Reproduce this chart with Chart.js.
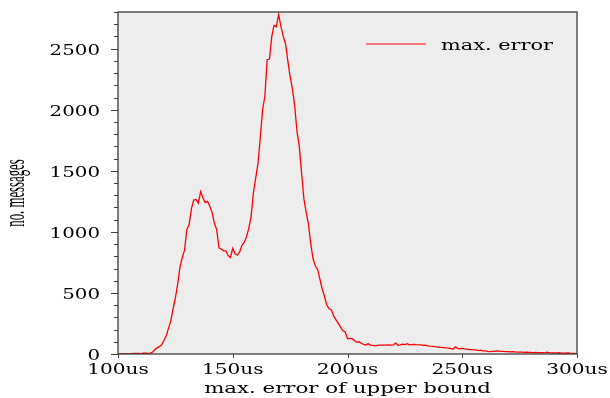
<!DOCTYPE html>
<html>
<head>
<meta charset="utf-8">
<script src="https://cdn.jsdelivr.net/npm/chart.js@4/dist/chart.umd.min.js"></script>
<style>
  html, body { margin: 0; padding: 0; background: #fff; }
  canvas { display: block; }
</style>
</head>
<body>
<canvas id="chart" width="610" height="398"></canvas>
<script>
// Bin positions (us) of the histogram
const errorUs = [
  100,101,102,103,104,105,106,107,108,109,110,111,112,113,114,115,116,117,118,119,
  120,121,122,123,124,125,126,127,128,129,130,131,132,133,134,135,136,137,138,139,
  140,141,142,143,144,145,146,147,148,149,150,151,152,153,154,155,156,157,158,159,
  160,161,162,163,164,165,166,167,168,169,170,171,172,173,174,175,176,177,178,179,
  180,181,182,183,184,185,186,187,188,189,190,191,192,193,194,195,196,197,198,199,
  200,201,202,203,204,205,206,207,208,209,210,211,212,213,214,215,216,217,218,219,
  220,221,222,223,224,225,226,227,228,229,230,231,232,233,234,235,236,237,238,239,
  240,241,242,243,244,245,246,247,248,249,250,251,252,253,254,255,256,257,258,259,
  260,261,262,263,264,265,266,267,268,269,270,271,272,273,274,275,276,277,278,279,
  280,281,282,283,284,285,286,287,288,289,290,291,292,293,294,295,296,297,298,299,
  300
];

// no. messages per bin
const messageCounts = [
  0,0,0,0,2,3,2,4,5,5,3,6,6,5,8,15,35,50,60,75,
  110,150,210,270,370,460,570,710,790,850,1020,1060,1190,1260,1265,1235,1330,1280,1240,1250,
  1210,1160,1070,1020,870,860,845,845,805,790,865,820,810,835,890,915,960,1030,1125,1320,
  1440,1560,1770,2000,2110,2410,2415,2600,2690,2680,2780,2680,2600,2540,2400,2270,2170,2030,1820,1700,
  1480,1270,1160,1060,900,780,720,690,610,530,470,400,370,360,310,280,250,220,190,180,
  125,128,125,110,95,100,88,78,74,85,72,70,66,70,72,72,73,72,74,73,
  75,90,72,75,80,77,84,75,77,78,76,75,74,70,72,66,64,63,60,58,
  55,55,53,50,48,45,38,58,46,43,46,42,40,36,35,33,34,28,32,26,
  25,22,20,22,21,25,24,22,21,20,19,18,19,17,16,15,15,14,15,13,
  14,12,13,11,12,11,10,15,10,9,9,8,10,8,7,6,8,6,5,5,
  3
];

const seriesLabel = 'max. error';
const xTitle = 'max. error of upper bound';
const yTitle = 'no. messages';
const xTickValues = [100, 150, 200, 250, 300];
const yTickValues = [0, 500, 1000, 1500, 2000, 2500];
const yMinorStep = 100;

const points = errorUs.map((us, i) => ({ x: us, y: messageCounts[i] }));

const serif = '"DejaVu Serif", serif';
const axisColor = '#3c3c3c';

// the original text is a wide serif, so draw it stretched
function wideText(ctx, text, x, y, size, sx, align) {
    ctx.save();
    ctx.font = size + 'px ' + serif;
    const w = ctx.measureText(text).width * sx;
    let left = x;
    if (align === 'center') left = x - w / 2;
    if (align === 'right') left = x - w;
    ctx.translate(left, y);
    ctx.scale(sx, 1);
    ctx.textAlign = 'left';
    ctx.textBaseline = 'alphabetic';
    ctx.fillText(text, 0, 0);
    ctx.restore();
}

const decorPlugin = {
    id: 'decor',
    beforeDatasetsDraw(chart) {
        const a = chart.chartArea;
        const ctx = chart.ctx;
        ctx.save();
        ctx.fillStyle = '#ededed';
        ctx.fillRect(a.left, a.top, a.right - a.left, a.bottom - a.top);
        ctx.restore();
    },
    afterDatasetsDraw(chart) {
        const a = chart.chartArea;
        const ctx = chart.ctx;
        const xs = chart.scales.x;
        const ys = chart.scales.y;
        ctx.save();
        ctx.strokeStyle = axisColor;
        ctx.lineWidth = 1.3;
        ctx.strokeRect(a.left, a.top, a.right - a.left, a.bottom - a.top);

        // y ticks, major + minor, outside
        ctx.lineWidth = 1;
        for (let v = ys.min; v <= ys.max; v += yMinorStep) {
            const y = Math.round(ys.getPixelForValue(v)) + 0.5;
            const len = v % 500 === 0 ? 7 : 4;
            ctx.beginPath();
            ctx.moveTo(a.left - len, y);
            ctx.lineTo(a.left, y);
            ctx.stroke();
        }
        xTickValues.forEach(v => {
            const x = Math.round(xs.getPixelForValue(v)) + 0.5;
            ctx.beginPath();
            ctx.moveTo(x, a.bottom);
            ctx.lineTo(x, a.bottom + 4);
            ctx.stroke();
        });

        // tick labels
        ctx.fillStyle = '#000';
        yTickValues.forEach(v => {
            wideText(ctx, String(v), a.left - 18, ys.getPixelForValue(v) + 6, 15, 1.32, 'right');
        });
        xTickValues.forEach(v => {
            wideText(ctx, v + 'us', xs.getPixelForValue(v), a.bottom + 19.5, 15, 1.34, 'center');
        });

        // x title
        wideText(ctx, xTitle, (a.left + a.right) / 2, 393, 15, 1.42, 'center');

        // legend
        const ds = chart.data.datasets[0];
        ctx.strokeStyle = ds.borderColor;
        ctx.lineWidth = 1;
        ctx.beginPath();
        ctx.moveTo(a.left + 248, 44);
        ctx.lineTo(a.left + 308, 44);
        ctx.stroke();
        wideText(ctx, ds.label, a.left + 323, 49.5, 15, 1.39, 'left');

        // y title, tall and narrow, rotated
        ctx.translate(24, 193);
        ctx.rotate(-Math.PI / 2);
        ctx.scale(0.44, 1);
        ctx.font = '29px "Liberation Serif", serif';
        ctx.textAlign = 'center';
        ctx.textBaseline = 'alphabetic';
        ctx.fillText(yTitle, 0, 0);
        ctx.restore();
    }
};

const noPad = s => { s.paddingTop = 0; s.paddingBottom = 0; s.paddingLeft = 0; s.paddingRight = 0; };

const ctx = document.getElementById('chart').getContext('2d');
new Chart(ctx, {
    type: 'line',
    data: {
        datasets: [{
            label: seriesLabel,
            data: points,
            borderColor: '#ff0000',
            borderWidth: 1.3,
            pointRadius: 0,
            tension: 0,
            fill: false
        }]
    },
    options: {
        responsive: false,
        devicePixelRatio: 1,
        animation: false,
        layout: { padding: { top: 12, right: 33, left: 0, bottom: 0 } },
        plugins: {
            legend: { display: false },
            tooltip: { enabled: false }
        },
        scales: {
            x: {
                type: 'linear',
                min: 100,
                max: 300,
                afterFit: s => { s.height = 44; noPad(s); },
                grid: { display: false },
                border: { display: false },
                ticks: { display: false, stepSize: 50 }
            },
            y: {
                min: 0,
                max: 2800,
                afterFit: s => { s.width = 118; noPad(s); },
                grid: { display: false },
                border: { display: false },
                ticks: { display: false, stepSize: 100 }
            }
        }
    },
    plugins: [decorPlugin]
});
</script>
</body>
</html>
